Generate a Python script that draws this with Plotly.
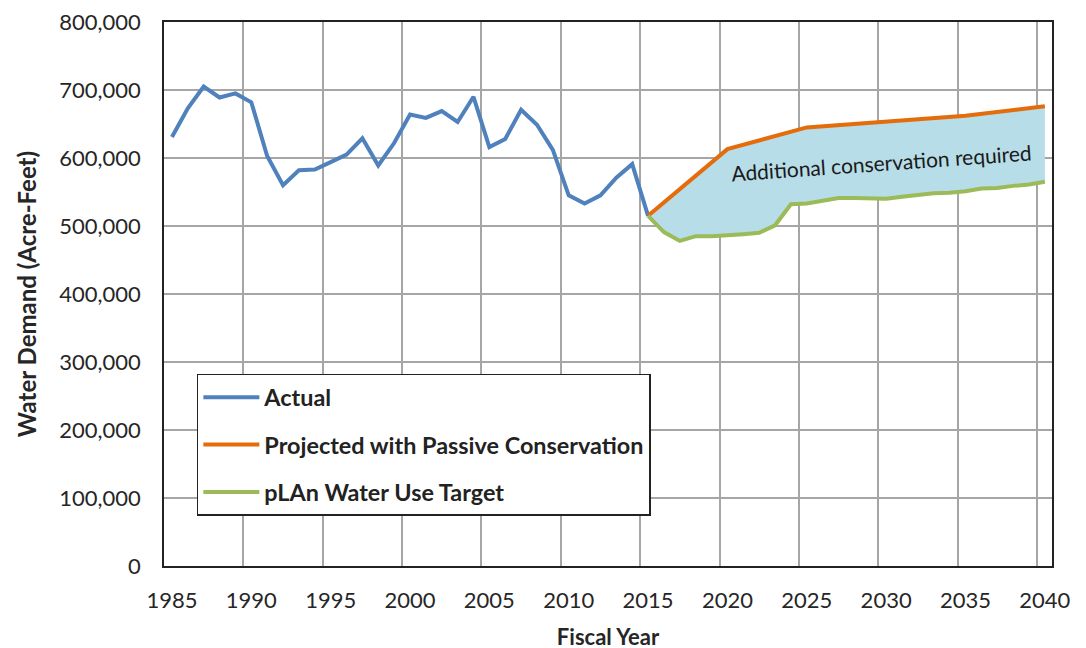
import plotly.graph_objects as go

# ---- data ----
years_actual = list(range(1985, 2016))
actual = [631000, 673000, 705000, 689000, 695000,
          682000, 603000, 560000, 582000, 583000,
          594000, 605000, 629000, 589000, 622000,
          664000, 659000, 669000, 653000, 690000,
          616000, 628000, 671000, 649000, 612000,
          545000, 533000, 545000, 571000, 591000,
          515000]

years_projected = [2015, 2020, 2025, 2030, 2035, 2040]
projected = [515000, 613000, 645000, 654000, 662000, 676000]

years_target = list(range(2015, 2041))
target = [515000, 491000, 478000, 485000, 485000,
          486000, 488000, 490000, 501000, 532000,
          533000, 537000, 541000, 541000, 540000,
          540000, 543000, 546000, 548000, 549000,
          551000, 555000, 556000, 559000, 561000,
          565000]

tick_years = list(range(1985, 2041, 5))
tick_labels = [str(y) for y in tick_years]

FONT = "Lato"
BLUE = "#4F81BD"
ORANGE = "#E46C0A"
GREEN = "#9BBB59"
FILL = "#B7DDE8"
TXT = "#262626"

fig = go.Figure()

# fill between projected and target
fig.add_trace(go.Scatter(x=years_projected, y=projected, mode="lines",
                         line=dict(width=0, color=FILL), showlegend=False,
                         hoverinfo="skip"))
fig.add_trace(go.Scatter(x=years_target, y=target, mode="lines",
                         line=dict(width=0, color=FILL), fill="tonexty",
                         fillcolor=FILL, showlegend=False, hoverinfo="skip"))

fig.add_trace(go.Scatter(x=years_actual, y=actual, mode="lines", name="Actual",
                         line=dict(color=BLUE, width=4), legendgroup="a"))
fig.add_trace(go.Scatter(x=years_projected, y=projected, mode="lines",
                         name="Projected with Passive Conservation",
                         line=dict(color=ORANGE, width=4), legendgroup="b"))
fig.add_trace(go.Scatter(x=years_target, y=target, mode="lines",
                         name="pLAn Water Use Target",
                         line=dict(color=GREEN, width=4), legendgroup="c"))

fig.add_annotation(x=2029.7, y=593000, text="Additional conservation required",
                   showarrow=False, textangle=-4,
                   font=dict(family=FONT, size=21, color="#1a1a1a"))

fig.update_layout(
    width=1086, height=648,
    margin=dict(l=156, r=42, t=14, b=90),
    paper_bgcolor="white", plot_bgcolor="white",
    font=dict(family=FONT, color=TXT),
    legend=dict(x=0.037, y=0.353, xanchor="left", yanchor="top",
                bgcolor="white", bordercolor="#222222", borderwidth=1.5,
                font=dict(family=FONT, size=23.4, color="#222222", weight="bold"),
                tracegroupgap=14, traceorder="grouped",
                itemwidth=56),
    xaxis=dict(range=[1984.5, 2040.45], tickmode="array", tickvals=tick_years,
               ticktext=tick_labels, showgrid=False, ticks="",
               tickfont=dict(family=FONT, size=22, color=TXT),
               showline=True, linecolor="#222222", linewidth=1.5, mirror=True,
               ticklabelstandoff=14, automargin=False, ticklabeloverflow="allow",
               minor=dict(tickmode="linear", tick0=1984.5, dtick=5, showgrid=True,
                          gridcolor="#A6A6A6", gridwidth=1.5),
               title=dict(text="<b>Fiscal Year</b>", standoff=17,
                          font=dict(family=FONT, size=22, color=TXT)),
               zeroline=False),
    yaxis=dict(range=[0, 800000], dtick=100000, tickformat=",d",
               showgrid=True, gridcolor="#A6A6A6", gridwidth=1.5,
               tickfont=dict(family=FONT, size=22, color=TXT),
               showline=True, linecolor="#222222", linewidth=1.5, mirror=True,
               ticks="", ticklabelstandoff=17, automargin=False,
               ticklabeloverflow="allow",
               title=dict(text="<b>Water Demand (Acre-Feet)</b>", standoff=16,
                          font=dict(family=FONT, size=24, color=TXT)),
               zeroline=False),
)

fig.write_html("out.html")
